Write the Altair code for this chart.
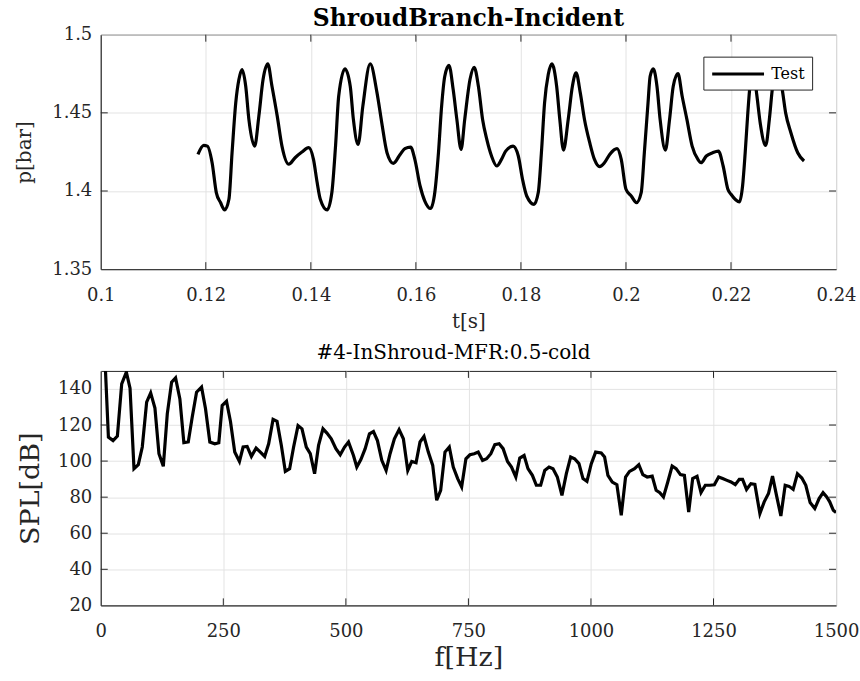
import altair as alt
import pandas as pd

FONT = "DejaVu Serif"
INK = "#262626"
GRID = "#e3e3e3"

# ---- pressure trace (top panel) ----
t_s = [
    0.1185, 0.1196, 0.1203, 0.1212, 0.1220, 0.1228, 0.1236, 0.1244, 0.1250, 0.1257,
    0.1263, 0.1269, 0.1276, 0.1282, 0.1293, 0.1301, 0.1309, 0.1318, 0.1326, 0.1336,
    0.1345, 0.1358, 0.1370, 0.1383, 0.1396, 0.1405, 0.1412, 0.1418, 0.1431, 0.1440,
    0.1447, 0.1453, 0.1465, 0.1475, 0.1481, 0.1490, 0.1499, 0.1513, 0.1526, 0.1535,
    0.1545, 0.1557,
    0.1570, 0.1579, 0.1590, 0.1598, 0.1608, 0.1617, 0.1628, 0.1636, 0.1643, 0.1649,
    0.1655, 0.1663, 0.1671, 0.1678, 0.1686, 0.1693, 0.1703, 0.1711, 0.1719, 0.1727,
    0.1735, 0.1744, 0.1754, 0.1763, 0.1771, 0.1785, 0.1795, 0.1803, 0.1811, 0.1825,
    0.1833, 0.1839, 0.1845, 0.1852, 0.1859, 0.1868, 0.1874, 0.1881, 0.1890, 0.1898,
    0.1905, 0.1913, 0.1921, 0.1931, 0.1940, 0.1950, 0.1959, 0.1969,
    0.1983, 0.1991, 0.2000, 0.2010, 0.2020, 0.2029, 0.2035, 0.2042, 0.2046, 0.2052,
    0.2059, 0.2065, 0.2075, 0.2083, 0.2090, 0.2099, 0.2107, 0.2116, 0.2126, 0.2137,
    0.2143, 0.2153, 0.2165, 0.2176, 0.2185, 0.2194, 0.2200, 0.2216, 0.2222, 0.2227,
    0.2232, 0.2236, 0.2242, 0.2249, 0.2256, 0.2266, 0.2273, 0.2279, 0.2287, 0.2297,
    0.2304, 0.2314, 0.2327, 0.2339,
]
p_bar = [
    1.4234, 1.4292, 1.4287, 1.4181, 1.3990, 1.3926, 1.3879, 1.3947, 1.4245, 1.4564,
    1.4713, 1.4777, 1.4670, 1.4458, 1.4287, 1.4479, 1.4713, 1.4813, 1.4670, 1.4479,
    1.4287, 1.4171, 1.4213, 1.4249, 1.4277, 1.4202, 1.4054, 1.3947, 1.3879, 1.3990,
    1.4287, 1.4606, 1.4781, 1.4670, 1.4458, 1.4298, 1.4543, 1.4813, 1.4628, 1.4437,
    1.4245, 1.4177,
    1.4234, 1.4271, 1.4281, 1.4202, 1.4032, 1.3936, 1.3888, 1.3990, 1.4245, 1.4543,
    1.4734, 1.4804, 1.4649, 1.4458, 1.4266, 1.4458, 1.4713, 1.4791, 1.4670, 1.4458,
    1.4330, 1.4224, 1.4160, 1.4202, 1.4255, 1.4287, 1.4224, 1.4075, 1.3968, 1.3915,
    1.3990, 1.4245, 1.4564, 1.4745, 1.4813, 1.4670, 1.4458, 1.4262, 1.4458, 1.4670,
    1.4756, 1.4628, 1.4458, 1.4309, 1.4202, 1.4156, 1.4181, 1.4234,
    1.4271, 1.4202, 1.4011, 1.3968, 1.3926, 1.3990, 1.4245, 1.4564, 1.4734, 1.4781,
    1.4670, 1.4458, 1.4262, 1.4458, 1.4670, 1.4751, 1.4606, 1.4458, 1.4287, 1.4202,
    1.4181, 1.4224, 1.4245, 1.4255, 1.4160, 1.4011, 1.3979, 1.3930, 1.4032, 1.4245,
    1.4500, 1.4670, 1.4789, 1.4617, 1.4426, 1.4292, 1.4458, 1.4662, 1.4777, 1.4660,
    1.4500, 1.4373, 1.4245, 1.4192,
]

# ---- sound pressure level spectrum (bottom panel) ----
f_hz = [
    0, 8, 15.6, 25.1, 33.9, 42.7, 52.2, 59.7, 67.8, 76.6,
    84.7, 93.6, 101.8, 110.5, 118.7, 127.6, 135.7, 144.5, 152.6, 161.4,
    169.5, 178.5, 186.6, 195.4, 205.6, 213.7, 222.5, 232.6, 240.8, 247.7,
    256.5, 264.6, 273.3, 282.9, 290.4, 298.6, 307.3, 316.9, 325.6, 334.4,
    342.5, 351.5, 359.6, 368.4, 376.5, 385.3, 393.4, 402.4, 410.5, 419.3,
    427.4, 436.2, 444.3, 453.3, 461.4, 470.2, 479.7, 488.5, 497.3, 505.4,
    515.5,
    522.3, 530.6, 539.4, 548.1, 556.3, 564.4, 573.3, 582.1, 590.2, 599.0,
    608.6, 617.3, 626.3, 634.4, 643.2, 651.3, 659.4, 668.2, 677.2, 685.3,
    693.4, 702.2, 711.0, 719.1, 728.1, 736.2, 744.9, 753.1, 761.8, 770.0,
    778.9, 787.1, 795.8, 803.9, 812.7, 820.8, 829.8, 837.9, 846.7, 854.8,
    863.6, 871.5, 880.5, 888.6, 897.4, 905.7, 914.5, 922.6, 931.4, 940.8,
    949.8, 958.6, 966.7, 975.5, 983.7, 991.8, 1000.7, 1009.5,
    1021.0, 1027.8, 1034.6, 1043.5, 1052.9, 1061.8, 1070.6, 1078.7, 1088.9, 1097.6,
    1105.8, 1114.7, 1124.9, 1133.0, 1140.5, 1147.9, 1156.7, 1165.6, 1173.7, 1182.5,
    1190.6, 1199.4, 1207.5, 1216.4, 1224.5, 1233.3, 1242.8, 1251.7, 1260.4, 1268.6,
    1277.5, 1285.7, 1294.4, 1302.6, 1309.3, 1317.4, 1326.3, 1334.4, 1344.6, 1353.4,
    1362.2, 1370.4, 1378.5, 1387.4, 1396.2, 1404.3, 1412.5, 1421.2, 1430.2, 1438.3,
    1447.1, 1456.6, 1465.4, 1473.5, 1481.0, 1487.1, 1494.4, 1500.0,
]
spl_db = [
    172, 160, 113.3, 111.4, 113.9, 142.8, 149.3, 140.4, 95.8, 98.0,
    107.8, 132.7, 137.8, 129.4, 104.1, 97.1, 126.2, 143.7, 146.1, 134.5,
    110.2, 110.6, 124.4, 138.2, 141.0, 129.0, 110.6, 109.6, 110.2, 130.8,
    133.2, 122.0, 105.0, 99.8, 107.8, 108.1, 102.6, 107.2, 105.0, 102.6,
    109.6, 123.1, 122.0, 108.7, 94.3, 95.8, 107.8, 119.7, 117.9, 107.8,
    104.1, 93.0, 108.7, 117.9, 115.5, 112.4, 106.9, 103.5, 107.8, 110.6,
    103.1,
    96.7, 100.9, 106.9, 115.1, 116.4, 111.4, 100.4, 94.8, 104.1, 112.4,
    117.5, 112.4, 94.8, 99.8, 99.1, 110.6, 113.7, 105.0, 97.6, 78.3,
    83.8, 105.0, 107.8, 96.7, 90.3, 85.7, 101.3, 103.5, 104.1, 105.0,
    100.4, 101.3, 104.1, 109.1, 109.6, 106.9, 99.8, 96.7, 91.2, 101.7,
    103.1, 95.8, 92.1, 86.6, 86.6, 94.8, 96.7, 95.8, 91.2, 81.0,
    93.0, 102.3, 101.3, 98.6, 90.3, 88.8, 98.6, 105.0,
    104.5, 102.3, 92.1, 88.4, 86.9, 70.0, 91.2, 94.3, 95.8, 98.0,
    92.5, 91.2, 91.7, 83.8, 82.5, 80.1, 88.4, 97.3, 95.8, 92.5,
    92.1, 71.8, 90.3, 91.5, 82.5, 86.6, 86.6, 86.9, 91.2, 90.3,
    89.3, 88.4, 86.9, 89.9, 89.9, 84.3, 87.5, 87.1, 70.9, 77.4,
    82.0, 91.7, 81.0, 69.6, 86.6, 86.0, 84.3, 93.0, 90.6, 86.6,
    77.0, 73.7, 79.2, 82.5, 80.1, 77.4, 72.7, 71.5,
]

# axis tick values
t_ticks = [0.1, 0.12, 0.14, 0.16, 0.18, 0.2, 0.22, 0.24]
p_ticks = [1.35, 1.4, 1.45, 1.5]
f_ticks = [0, 250, 500, 750, 1000, 1250, 1500]
spl_ticks = [20, 40, 60, 80, 100, 120, 140]

W, H = 737, 235
TICK_LEN = 7


def axis(title, values, size, fmt, **kw):
    return alt.Axis(
        title=title, values=values, format=fmt, grid=True, gridColor=GRID,
        tickSize=0, domainColor=INK, labelFont=FONT, labelFontSize=18,
        labelColor=INK, labelFlush=False, labelOverlap=False,
        titleFont=FONT, titleFontSize=size, titleFontWeight="normal",
        titleColor=INK, **kw,
    )


def inner_ticks(xvals, yvals, xcol, ycol, xs, ys, xaxis, yaxis):
    """Short tick marks pointing into the plot box on all four sides."""
    xdf = pd.DataFrame({xcol: xvals[1:-1]})
    ydf = pd.DataFrame({ycol: yvals[1:-1]})
    layers = []
    for a, b in [(0, TICK_LEN), (H, H - TICK_LEN)]:
        layers.append(alt.Chart(xdf).mark_rule(color=INK, strokeWidth=1).encode(
            x=alt.X(f"{xcol}:Q", scale=xs, axis=xaxis),
            y=alt.value(a), y2=alt.value(b)))
    for a, b in [(0, TICK_LEN), (W, W - TICK_LEN)]:
        layers.append(alt.Chart(ydf).mark_rule(color=INK, strokeWidth=1).encode(
            y=alt.Y(f"{ycol}:Q", scale=ys, axis=yaxis),
            x=alt.value(a), x2=alt.value(b)))
    return layers


# top panel
top_df = pd.DataFrame({"t": t_s, "p": p_bar, "series": "Test"})
xs_top = alt.Scale(domain=[0.1, 0.24], nice=False, zero=False)
ys_top = alt.Scale(domain=[1.35, 1.5], nice=False, zero=False)
xa_top = axis("t[s]", t_ticks, 20, "~r", labelPadding=17, titlePadding=7)
ya_top = axis("p[bar]", p_ticks, 20, "~r", labelPadding=9, titleX=-76, titleY=H / 2,
              titleAngle=270, titleAlign="center", titleBaseline="middle")

# legend sample: a long horizontal stroke that starts at the symbol's left edge
legend_stroke = "M-1,0H5"

top_line = alt.Chart(top_df).mark_line(
    strokeWidth=3.2, clip=True, interpolate="monotone"
).encode(
    x=alt.X("t:Q", scale=xs_top, axis=xa_top),
    y=alt.Y("p:Q", scale=ys_top, axis=ya_top),
    color=alt.Color("series:N", scale=alt.Scale(domain=["Test"], range=["black"]),
                    legend=alt.Legend(
                        title=None, orient="none", legendX=604, legendY=22,
                        symbolType=legend_stroke, symbolSize=300,
                        symbolStrokeWidth=3, symbolStrokeColor="black",
                        symbolFillColor="transparent",
                        labelFont=FONT, labelFontSize=16, labelColor="black",
                        strokeColor=INK, fillColor="white", padding=7,
                        labelOffset=40, cornerRadius=0)),
)

top = alt.layer(
    top_line, *inner_ticks(t_ticks, p_ticks, "t", "p", xs_top, ys_top, xa_top, ya_top)
).properties(
    width=W, height=H,
    title=alt.TitleParams("ShroudBranch-Incident", font=FONT, fontSize=23.5,
                          fontWeight="bold", color="black", offset=-5),
)

# bottom panel
bot_df = pd.DataFrame({"f": f_hz, "spl": spl_db})
xs_bot = alt.Scale(domain=[0, 1500], nice=False, zero=False)
ys_bot = alt.Scale(domain=[20, 150], nice=False, zero=False)
xa_bot = axis("f[Hz]", f_ticks, 27, "d", labelPadding=17, titlePadding=4)
ya_bot = axis("SPL[dB]", spl_ticks, 27, "d", labelPadding=9, titleX=-70, titleY=H / 2,
              titleAngle=270, titleAlign="center", titleBaseline="middle")

bot_line = alt.Chart(bot_df).mark_line(strokeWidth=3.2, color="black", clip=True).encode(
    x=alt.X("f:Q", scale=xs_bot, axis=xa_bot),
    y=alt.Y("spl:Q", scale=ys_bot, axis=ya_bot),
)

bottom = alt.layer(
    bot_line, *inner_ticks(f_ticks, spl_ticks, "f", "spl", xs_bot, ys_bot, xa_bot, ya_bot)
).properties(
    width=W, height=H,
    title=alt.TitleParams("#4-InShroud-MFR:0.5-cold", font=FONT, fontSize=20,
                          fontWeight="normal", color="black", offset=7, dx=-15),
)

chart = alt.vconcat(top, bottom, spacing=11).properties(
    padding={"left": 14, "top": 6, "right": 0, "bottom": 0},
    background="white",
).configure_view(stroke=INK, strokeWidth=1)

chart.save("out.html", embed_options={"renderer": "svg", "actions": False})
